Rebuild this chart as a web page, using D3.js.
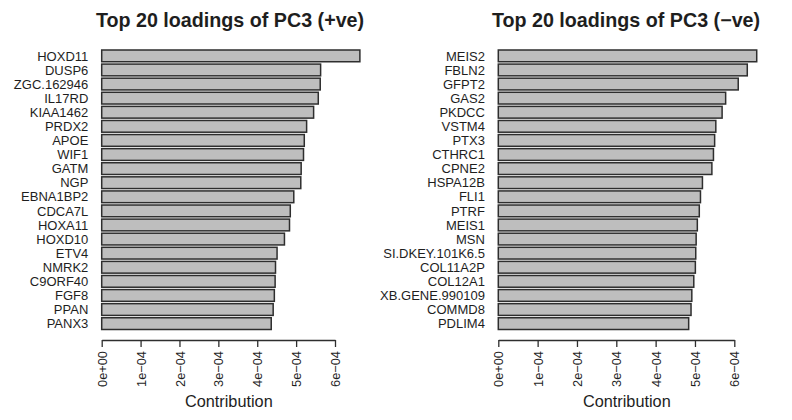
<!DOCTYPE html>
<html>
<head>
<meta charset="utf-8">
<script src="https://cdn.jsdelivr.net/npm/d3@7"></script>
<style>
  html, body { margin: 0; padding: 0; background: #fff; }
  svg { display: block; font-family: "Liberation Sans", Arial, Helvetica, sans-serif; }
</style>
</head>
<body>
<svg id="chart" width="792" height="420"></svg>
<script>
// ---- data ----
const posGenes = ["HOXD11","DUSP6","ZGC.162946","IL17RD","KIAA1462","PRDX2","APOE","WIF1","GATM","NGP",
  "EBNA1BP2","CDCA7L","HOXA11","HOXD10","ETV4","NMRK2","C9ORF40","FGF8","PPAN","PANX3"];
const posValues = [6.64e-4,5.63e-4,5.62e-4,5.57e-4,5.45e-4,5.27e-4,5.21e-4,5.19e-4,5.13e-4,5.12e-4,
  4.94e-4,4.85e-4,4.83e-4,4.70e-4,4.51e-4,4.47e-4,4.46e-4,4.44e-4,4.41e-4,4.36e-4];

const negGenes = ["MEIS2","FBLN2","GFPT2","GAS2","PKDCC","VSTM4","PTX3","CTHRC1","CPNE2","HSPA12B",
  "FLI1","PTRF","MEIS1","MSN","SI.DKEY.101K6.5","COL11A2P","COL12A1","XB.GENE.990109","COMMD8","PDLIM4"];
const negValues = [6.57e-4,6.33e-4,6.10e-4,5.78e-4,5.69e-4,5.53e-4,5.50e-4,5.47e-4,5.43e-4,5.19e-4,
  5.14e-4,5.11e-4,5.06e-4,5.03e-4,5.02e-4,5.01e-4,4.97e-4,4.92e-4,4.90e-4,4.84e-4];

const tickValues = [0, 1e-4, 2e-4, 3e-4, 4e-4, 5e-4, 6e-4];
const tickLabels = ["0e+00","1e\u221204","2e\u221204","3e\u221204","4e\u221204","5e\u221204","6e\u221204"];

const titles = ["Top 20 loadings of PC3 (+ve)", "Top 20 loadings of PC3 (\u2212ve)"];
const xLabel = "Contribution";

// ---- drawing ----
const svg = d3.select("#chart");
const ink = "#1e1e1e";

const panels = [
  { genes: posGenes, values: posValues, title: titles[0], x0: 101.7, x1: 335.0, cx: 230 },
  { genes: negGenes, values: negValues, title: titles[1], x0: 498.3, x1: 734.3, cx: 626 }
];

const barTop = 50, barBottom = 329.5, axisY = 340;

panels.forEach(p => {
  const g = svg.append("g");
  const x = d3.scaleLinear().domain([0, 6e-4]).range([p.x0, p.x1]);
  const y = d3.scaleBand().domain(p.genes).range([barTop, barBottom])
    .paddingInner(1/6).paddingOuter(0);

  // title
  g.append("text")
    .attr("x", p.cx).attr("y", 27)
    .attr("text-anchor", "middle")
    .attr("font-size", "19.7px").attr("font-weight", "bold")
    .attr("fill", ink)
    .text(p.title);

  // bars
  g.selectAll("rect.bar").data(p.genes.map((gname, i) => ({ gname, v: p.values[i] })))
    .join("rect")
    .attr("class", "bar")
    .attr("x", x(0))
    .attr("y", d => y(d.gname))
    .attr("width", d => x(d.v) - x(0))
    .attr("height", y.bandwidth())
    .attr("fill", "#bebebe")
    .attr("stroke", "#2e2e2e")
    .attr("stroke-width", 1.5);

  // category labels
  g.selectAll("text.lab").data(p.genes)
    .join("text")
    .attr("class", "lab")
    .attr("x", x(0) - 13.4)
    .attr("y", d => y(d) + y.bandwidth() / 2)
    .attr("dy", "0.36em")
    .attr("text-anchor", "end")
    .attr("font-size", "13px")
    .attr("fill", ink)
    .text(d => d);

  // x axis
  const axis = d3.axisBottom(x)
    .tickValues(tickValues)
    .tickFormat((d, i) => tickLabels[i])
    .tickSize(7)
    .tickSizeOuter(0);
  const ag = g.append("g").attr("transform", `translate(0,${axisY})`).call(axis);
  ag.select(".domain").attr("stroke", "#2e2e2e").attr("stroke-width", 1.3);
  ag.selectAll(".tick line").attr("stroke", "#2e2e2e").attr("stroke-width", 1.3);
  ag.selectAll(".tick text")
    .attr("transform", "rotate(-90)")
    .attr("x", -11).attr("y", 0).attr("dy", "0.36em")
    .attr("text-anchor", "end")
    .attr("font-size", "12.8px")
    .attr("font-family", "Liberation Sans, Arial, Helvetica, sans-serif")
    .attr("fill", ink);

  // axis title
  g.append("text")
    .attr("x", (p.x0 + p.x1) / 2 + 10.5).attr("y", 407)
    .attr("text-anchor", "middle")
    .attr("font-size", "16.3px")
    .attr("fill", ink)
    .text(xLabel);
});
</script>
</body>
</html>
